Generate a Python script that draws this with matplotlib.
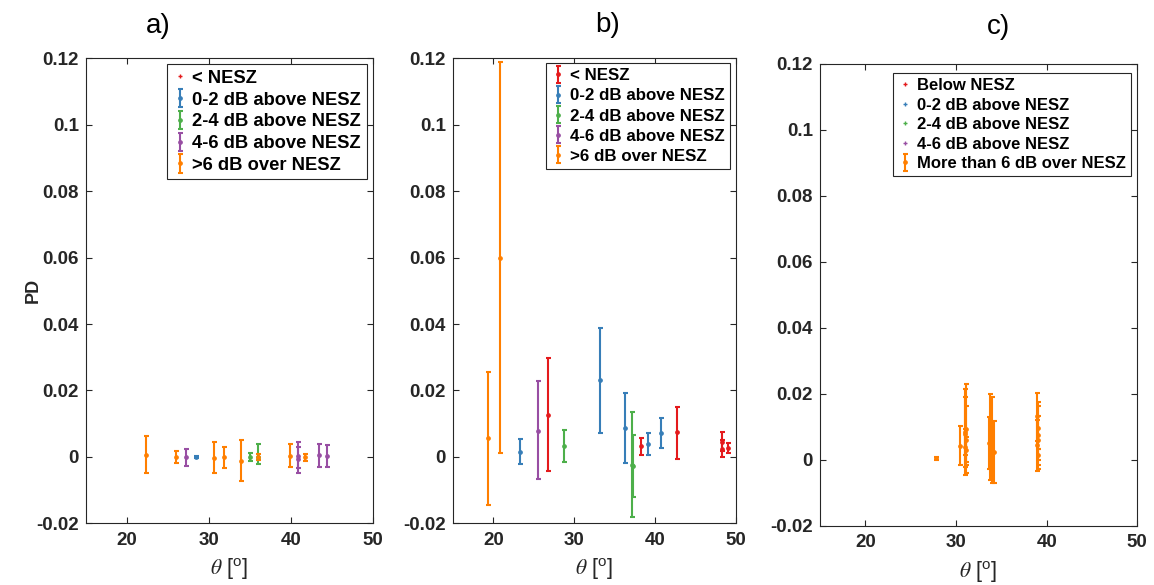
import matplotlib
matplotlib.use("Agg")
import matplotlib.pyplot as plt
from matplotlib.lines import Line2D
import numpy as np

plt.rcParams['font.family'] = ['Liberation Sans', 'DejaVu Sans']
plt.rcParams['mathtext.fontset'] = 'custom'
plt.rcParams['mathtext.it'] = 'STIXGeneral:italic'
plt.rcParams['mathtext.rm'] = 'Liberation Sans'
plt.rcParams['mathtext.bf'] = 'Liberation Sans:bold'

# ---------------- data ----------------
COLORS = {'red': '#e41a1c', 'blue': '#377eb8', 'green': '#4daf4a',
          'purple': '#984ea3', 'orange': '#ff7f00'}

# panel a
a_blue_theta = [28.4]
a_blue_pd = [0.0]
a_blue_hi = [0.0003]
a_blue_lo = [-0.0003]

a_green_theta = [35.0, 36.0]
a_green_pd = [0.0, 0.0]
a_green_hi = [0.0012, 0.0039]
a_green_lo = [-0.0011, -0.0021]

a_purple_theta = [27.15, 40.83, 40.9, 43.43, 44.33]
a_purple_pd = [0.0, 0.0002, -0.0005, 0.0005, 0.0002]
a_purple_hi = [0.0023, 0.0046, 0.0030, 0.0040, 0.0036]
a_purple_lo = [-0.0026, -0.0050, -0.0035, -0.0030, -0.0031]

a_orange_theta = [22.26, 26.0, 30.67, 31.77, 33.89, 36.0, 39.9, 41.72]
a_orange_pd = [0.0007, 0.0, -0.0003, 0.0, -0.0011, 0.0, 0.0004, 0.0]
a_orange_hi = [0.0063, 0.0019, 0.0045, 0.0030, 0.0051, 0.0009, 0.0038, 0.0010]
a_orange_lo = [-0.0048, -0.0019, -0.0049, -0.0033, -0.0074, -0.0010, -0.0030, -0.0011]

# panel b
b_red_theta = [26.8, 38.27, 42.72, 48.2, 48.25, 48.97]
b_red_pd = [0.0127, 0.0034, 0.0074, 0.0045, 0.0025, 0.0028]
b_red_hi = [0.0297, 0.0058, 0.0151, 0.0074, 0.0050, 0.0043]
b_red_lo = [-0.0043, 0.0007, -0.0005, 0.0019, 0.0001, 0.0012]

b_blue_theta = [23.3, 33.2, 36.26, 39.06, 40.74]
b_blue_pd = [0.0015, 0.0231, 0.0086, 0.0039, 0.0073]
b_blue_hi = [0.0054, 0.0388, 0.0192, 0.0071, 0.0118]
b_blue_lo = [-0.0022, 0.0073, -0.0019, 0.0006, 0.0028]

b_green_theta = [28.77, 37.1, 37.2]
b_green_pd = [0.0034, -0.0025, -0.0027]
b_green_hi = [0.0082, 0.0136, 0.0066]
b_green_lo = [-0.0015, -0.0180, -0.0121]

b_purple_theta = [25.48]
b_purple_pd = [0.0079]
b_purple_hi = [0.0227]
b_purple_lo = [-0.0068]

b_orange_theta = [19.38, 20.83]
b_orange_pd = [0.0056, 0.0600]
b_orange_hi = [0.0257, 0.1189]
b_orange_lo = [-0.0145, 0.0011]

# panel c
c_orange_theta = [27.75, 30.43, 30.95, 31.0, 31.05, 31.1, 31.0, 31.05,
                  33.6, 33.8, 33.9, 34.0, 34.2,
                  38.95, 39.0, 39.05, 39.0, 38.98, 39.02]
c_orange_pd = [0.0005, 0.0043, 0.0085, 0.0080, 0.0095, 0.0060, 0.0040, 0.0030,
               0.0052, 0.0070, 0.0040, 0.0060, 0.0025,
               0.0133, 0.0098, 0.0076, 0.0060, 0.0045, 0.0015]
c_orange_hi = [0.0010, 0.0103, 0.0190, 0.0215, 0.0229, 0.0164, 0.0093, 0.0071,
               0.0131, 0.0199, 0.0105, 0.0192, 0.0119,
               0.0204, 0.0177, 0.0164, 0.0133, 0.0121, 0.0032]
c_orange_lo = [0.0000, -0.0015, -0.0020, -0.0045, -0.0040, -0.0015, 0.0015, -0.0005,
               -0.0027, -0.0061, -0.0040, -0.0069, -0.0069,
               0.0059, 0.0032, -0.0015, -0.0027, -0.0033, 0.0000]

labels_ab = ['< NESZ', '0-2 dB above NESZ', '2-4 dB above NESZ',
             '4-6 dB above NESZ', '>6 dB over NESZ']
labels_c = ['Below NESZ', '0-2 dB above NESZ', '2-4 dB above NESZ',
            '4-6 dB above NESZ', 'More than 6 dB over NESZ']

yticks = [-0.02, 0, 0.02, 0.04, 0.06, 0.08, 0.1, 0.12]
yticklabels = ['-0.02', '0', '0.02', '0.04', '0.06', '0.08', '0.1', '0.12']
xticks = [20, 30, 40, 50]

# ---------------- figure ----------------
W, H = 1154, 585
fig = plt.figure(figsize=(W / 100, H / 100), dpi=100)

def px_axes(l, r, t, b):
    return fig.add_axes([l / W, 1 - b / H, (r - l) / W, (b - t) / H])

ax_a = px_axes(86, 373, 58.3, 523.3)
ax_b = px_axes(452.8, 736.3, 58.3, 523.3)
ax_c = px_axes(820, 1137.3, 64, 526)

SP = '#262626'

def eb(ax, th, pd, hi, lo, color):
    pd = np.asarray(pd); hi = np.asarray(hi); lo = np.asarray(lo)
    return ax.errorbar(th, pd, yerr=[pd - lo, hi - pd], fmt='o', ms=2.4,
                       color=color, ecolor=color, elinewidth=1.5,
                       capsize=1.8, capthick=1.5, ls='none')

def style(ax):
    ax.set_xlim(15, 50)
    ax.set_ylim(-0.02, 0.12)
    ax.set_xticks(xticks)
    ax.set_xticklabels([str(v) for v in xticks])
    ax.set_yticks(yticks)
    ax.set_yticklabels(yticklabels)
    ax.tick_params(direction='in', length=4.5, width=0.8, colors=SP,
                   top=True, right=True, labelsize=13.5)
    ax.tick_params(axis='x', pad=6)
    ax.tick_params(axis='y', pad=5)
    for lab in ax.get_xticklabels() + ax.get_yticklabels():
        lab.set_fontweight('bold')
    for s in ax.spines.values():
        s.set_color(SP)
        s.set_linewidth(0.8)
    ax.set_xlabel(r'$\theta$ [$^{\mathrm{o}}$]', fontsize=15.5, color=SP, labelpad=6)

def leg(ax, handles, labels, x, y, fs, spacing):
    lg = ax.legend(handles, labels, loc='upper right',
                   bbox_to_anchor=(x / W, 1 - y / H), bbox_transform=fig.transFigure,
                   borderaxespad=0, prop={'weight': 'bold', 'size': fs},
                   handlelength=0.8, handletextpad=0.3, borderpad=0.3,
                   labelspacing=spacing, fancybox=False, framealpha=1,
                   edgecolor=SP)
    lg.get_frame().set_linewidth(0.8)
    for t in lg.get_texts():
        t.set_color('black')

def dot(color):
    return Line2D([], [], ls='none', marker='+', ms=3.5, mew=1.0, color=color)

# panel a
ha_blue = eb(ax_a, a_blue_theta, a_blue_pd, a_blue_hi, a_blue_lo, COLORS['blue'])
ha_green = eb(ax_a, a_green_theta, a_green_pd, a_green_hi, a_green_lo, COLORS['green'])
ha_purple = eb(ax_a, a_purple_theta, a_purple_pd, a_purple_hi, a_purple_lo, COLORS['purple'])
ha_orange = eb(ax_a, a_orange_theta, a_orange_pd, a_orange_hi, a_orange_lo, COLORS['orange'])
style(ax_a)
leg(ax_a, [dot(COLORS['red']), ha_blue, ha_green, ha_purple, ha_orange], labels_ab,
    366.7, 64.3, 13.2, 0.26)

# panel b
hb_red = eb(ax_b, b_red_theta, b_red_pd, b_red_hi, b_red_lo, COLORS['red'])
hb_blue = eb(ax_b, b_blue_theta, b_blue_pd, b_blue_hi, b_blue_lo, COLORS['blue'])
hb_green = eb(ax_b, b_green_theta, b_green_pd, b_green_hi, b_green_lo, COLORS['green'])
hb_purple = eb(ax_b, b_purple_theta, b_purple_pd, b_purple_hi, b_purple_lo, COLORS['purple'])
hb_orange = eb(ax_b, b_orange_theta, b_orange_pd, b_orange_hi, b_orange_lo, COLORS['orange'])
style(ax_b)
leg(ax_b, [hb_red, hb_blue, hb_green, hb_purple, hb_orange], labels_ab,
    730, 63.3, 12.2, 0.30)

# panel c
hc_orange = eb(ax_c, c_orange_theta, c_orange_pd, c_orange_hi, c_orange_lo, COLORS['orange'])
style(ax_c)
leg(ax_c, [dot(COLORS['red']), dot(COLORS['blue']), dot(COLORS['green']),
           dot(COLORS['purple']), hc_orange], labels_c, 1130.7, 73.3, 12.0, 0.27)

# titles and y label
fig.text(158.7 / W, 1 - 26 / H, 'a)', fontsize=20, ha='center', va='center', color='black')
fig.text(608 / W, 1 - 25 / H, 'b)', fontsize=20, ha='center', va='center', color='black')
fig.text(998 / W, 1 - 27 / H, 'c)', fontsize=20, ha='center', va='center', color='black')
fig.text(33 / W, 1 - 290 / H, 'PD', fontsize=13, fontweight='bold', rotation=90,
         ha='center', va='center', color=SP)

fig.savefig('out.png', dpi=100)
